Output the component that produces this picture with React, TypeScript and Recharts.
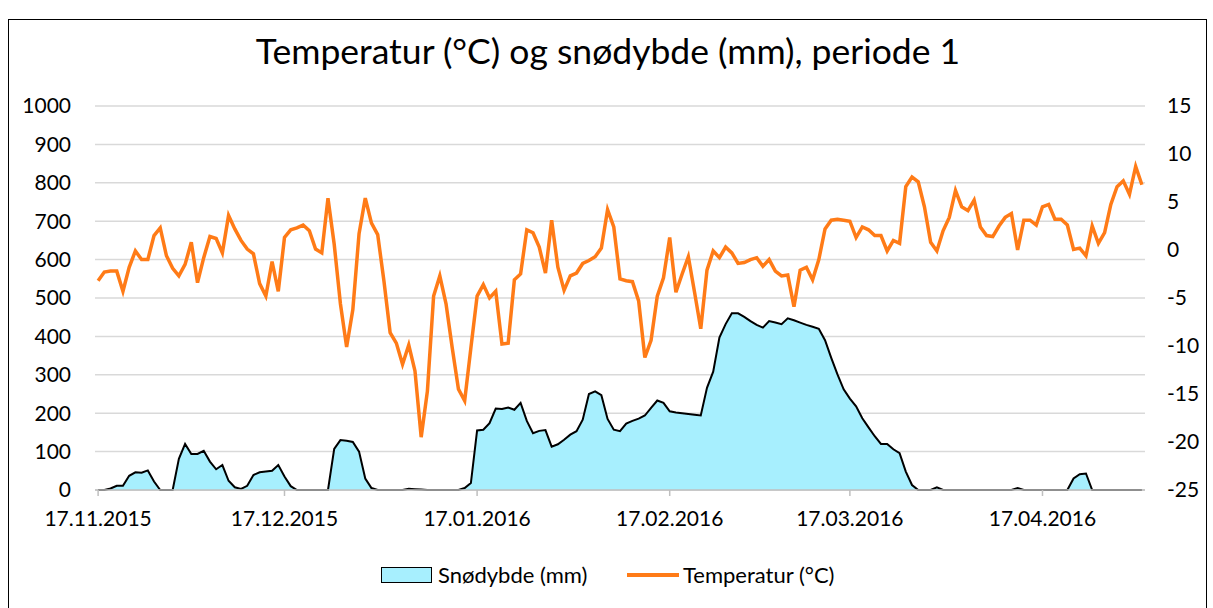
import React from 'react';
import { ComposedChart, Area, Line, XAxis, YAxis, CartesianGrid } from 'recharts';

// daily values from 17.11.2015 (day 0) onward
const snowDepth = [
  0, 0, 4, 11, 11, 37, 46, 45, 51, 22,
  0, 0, 0, 81, 120, 94, 94, 102, 74, 54,
  65, 24, 7, 3, 11, 39, 46, 48, 50, 65,
  35, 10, 0, 0, 0, 0, 0, 0, 107, 130,
  128, 125, 100, 30, 5, 0, 0, 0, 0, 0,
  3, 2, 1, 0, 0, 0, 0, 0, 0, 5,
  18, 155, 157, 174, 212, 211, 215, 209, 227, 180,
  148, 154, 156, 113, 119, 131, 144, 153, 183, 250,
  257, 247, 185, 157, 153, 173, 180, 186, 194, 214,
  233, 227, 205, 202, 200, 198, 196, 194, 266, 308,
  397, 432, 460, 460, 451, 440, 430, 423, 440, 436,
  432, 447, 442, 436, 430, 425, 420, 390, 344, 301,
  262, 238, 218, 187, 163, 140, 120, 120, 106, 96,
  48, 13, 0, 0, 0, 7, 0, 0, 0, 0,
  0, 0, 0, 0, 0, 0, 0, 0, 5, 0,
  0, 0, 0, 0, 0, 0, 0, 30, 41, 43,
  0, 0, 0, 0, 0, 0, 0, 0, 0,
];

const temperature = [
  -3.2, -2.3, -2.2, -2.2, -4.3, -1.8, -0.1, -1.0, -1.0, 1.5,
  2.3, -0.6, -1.9, -2.7, -1.5, 0.8, -3.4, -0.8, 1.4, 1.2,
  -0.3, 3.6, 2.2, 1.0, 0.1, -0.4, -3.5, -4.8, -1.2, -4.3,
  1.3, 2.1, 2.3, 2.6, 2.0, 0.1, -0.3, 5.4, 0.6, -5.6,
  -10.1, -6.2, 1.7, 5.4, 2.8, 1.6, -3.2, -8.6, -9.7, -11.9,
  -9.9, -12.6, -19.5, -14.7, -4.8, -2.7, -5.6, -10.2, -14.5, -15.7,
  -10.2, -4.8, -3.6, -5.0, -4.3, -9.8, -9.7, -3.1, -2.5, 2.1,
  1.8, 0.3, -2.4, 3.1, -1.8, -4.2, -2.7, -2.4, -1.4, -1.1,
  -0.7, 0.2, 4.2, 2.4, -3.0, -3.2, -3.3, -5.3, -11.2, -9.4,
  -4.8, -2.9, 1.3, -4.4, -2.5, -0.7, -4.4, -8.2, -2.1, -0.1,
  -0.8, 0.3, -0.3, -1.4, -1.3, -1.0, -0.8, -1.7, -1.0, -2.2,
  -2.7, -2.6, -5.9, -2.1, -1.8, -3.1, -1.0, 2.2, 3.1, 3.2,
  3.1, 3.0, 1.3, 2.4, 2.1, 1.5, 1.5, -0.1, 1.0, 0.7,
  6.6, 7.6, 7.1, 4.5, 0.8, -0.1, 2.0, 3.4, 6.2, 4.5,
  4.1, 5.2, 2.4, 1.5, 1.4, 2.5, 3.4, 3.8, 0.0, 3.1,
  3.1, 2.6, 4.5, 4.75, 3.2, 3.2, 2.6, 0.05, 0.2, -0.6,
  2.5, 0.7, 1.8, 4.75, 6.6, 7.2, 5.8, 8.7, 6.8,
];

const tickDays = [0, 30, 61, 92, 121, 152];
const tickLabels = ['17.11.2015', '17.12.2015', '17.01.2016', '17.02.2016', '17.03.2016', '17.04.2016'];
const snowTicks = [0, 100, 200, 300, 400, 500, 600, 700, 800, 900, 1000];
const tempTicks = [-25, -20, -15, -10, -5, 0, 5, 10, 15];

const data = temperature.map((t, i) => ({ day: i, snow: snowDepth[i], temp: t }));

const FONT = 'Lato, "Open Sans", sans-serif';
const ORANGE = '#ff7b17';
const SNOW_FILL = '#a7effe';
const TICK = { fill: '#000', fontSize: 21, fontFamily: FONT };

export default function App() {
  return (
    <div style={{ position: 'absolute', left: 0, top: 0, width: 1213, height: 608, background: '#fff', overflow: 'hidden', fontFamily: FONT, color: '#000' }}>
      <div style={{ position: 'absolute', left: 8, top: 19, width: 1197, height: 620, border: '1.5px solid #000' }} />
      <div style={{ position: 'absolute', left: 8, top: 29, width: 1200, textAlign: 'center', fontSize: 35.5, lineHeight: '44px' }}>
        Temperatur (°C) og snødybde (mm), periode 1
      </div>

      <ComposedChart
        width={1213}
        height={608}
        data={data}
        margin={{ top: 106, right: 8, bottom: 88, left: 35 }}
        style={{ position: 'absolute', left: 0, top: 0 }}
      >
        <CartesianGrid yAxisId="left" vertical={false} stroke="#d9d9d9" strokeWidth={1.5} />
        <XAxis
          dataKey="day"
          type="number"
          domain={[-0.5, 168.5]}
          ticks={tickDays}
          interval={0}
          tickFormatter={(v: number) => tickLabels[tickDays.indexOf(v)] ?? ''}
          axisLine={{ stroke: '#bfbfbf', strokeWidth: 1.5 }}
          tickLine={{ stroke: '#bfbfbf', strokeWidth: 1.5 }}
          tickSize={6}
          tickMargin={15}
          height={30}
          tick={TICK}
        />
        <YAxis
          yAxisId="left"
          domain={[0, 1000]}
          ticks={snowTicks}
          interval={0}
          width={60}
          axisLine={false}
          tickLine={false}
          tickMargin={18}
          tick={TICK}
        />
        <YAxis
          yAxisId="right"
          orientation="right"
          domain={[-25, 15]}
          ticks={tempTicks}
          interval={0}
          width={60}
          axisLine={false}
          tickLine={false}
          tickMargin={16}
          tick={{ ...TICK, textAnchor: 'start' }}
        />
        <Area
          yAxisId="left"
          type="linear"
          dataKey="snow"
          stroke="#000"
          strokeWidth={2}
          fill={SNOW_FILL}
          fillOpacity={1}
          isAnimationActive={false}
        />
        <Line
          yAxisId="right"
          type="linear"
          dataKey="temp"
          stroke={ORANGE}
          strokeWidth={3.5}
          dot={false}
          isAnimationActive={false}
        />
      </ComposedChart>

      <div style={{ position: 'absolute', left: 381, top: 567, width: 49, height: 14, background: SNOW_FILL, border: '1.5px solid #000' }} />
      <div style={{ position: 'absolute', left: 438, top: 562, fontSize: 22, lineHeight: '26px' }}>Snødybde (mm)</div>
      <div style={{ position: 'absolute', left: 627, top: 573, width: 52, height: 3.5, background: ORANGE }} />
      <div style={{ position: 'absolute', left: 683, top: 562, fontSize: 22, lineHeight: '26px' }}>Temperatur (°C)</div>
    </div>
  );
}
